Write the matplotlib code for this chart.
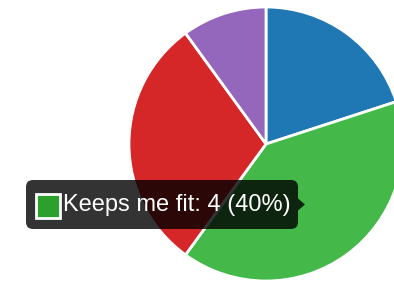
import matplotlib.pyplot as plt
from matplotlib.patches import FancyBboxPatch, Polygon, Rectangle

# data
categories = ['Stress relief', 'Keeps me fit', 'Social', 'Other']
values = [2, 4, 3, 1]
colors = ['#1f77b4', '#44b94a', '#d62728', '#9467bd']
hover_index = 1
hover_color = '#2ca02c'

W, H = 394, 285
fig = plt.figure(figsize=(W / 100, H / 100), dpi=100)
ax = fig.add_axes([0, 0, 1, 1])

ax.pie(values, colors=colors, startangle=90, counterclock=False,
       center=(266, H - 144), radius=137,
       wedgeprops=dict(edgecolor='white', linewidth=2))
ax.set_xlim(0, W)
ax.set_ylim(0, H)
ax.set_aspect('equal')
ax.axis('off')

# tooltip
total = sum(values)
v = values[hover_index]
text = '%s: %d (%d%%)' % (categories[hover_index], v, round(100 * v / total))

x0, x1 = 26, 298
ytop, ybot = H - 180, H - 229
box = FancyBboxPatch((x0, ybot), x1 - x0, ytop - ybot,
                     boxstyle='round,pad=0,rounding_size=7',
                     facecolor='black', alpha=0.8, edgecolor='none', zorder=5)
ax.add_patch(box)
ymid = (ytop + ybot) / 2
ax.add_patch(Polygon([(x1, ymid + 6), (x1 + 7, ymid), (x1, ymid - 6)],
                     closed=True, facecolor='black', alpha=0.8,
                     edgecolor='none', zorder=5))
ax.add_patch(Rectangle((36, H - 218), 24, 24, facecolor=hover_color,
                       edgecolor='white', linewidth=2, zorder=6))
ax.text(63, H - 211, text, color='white', fontsize=17, family='Liberation Sans',
        va='baseline', ha='left', zorder=7)

fig.savefig('out.png', dpi=100)
